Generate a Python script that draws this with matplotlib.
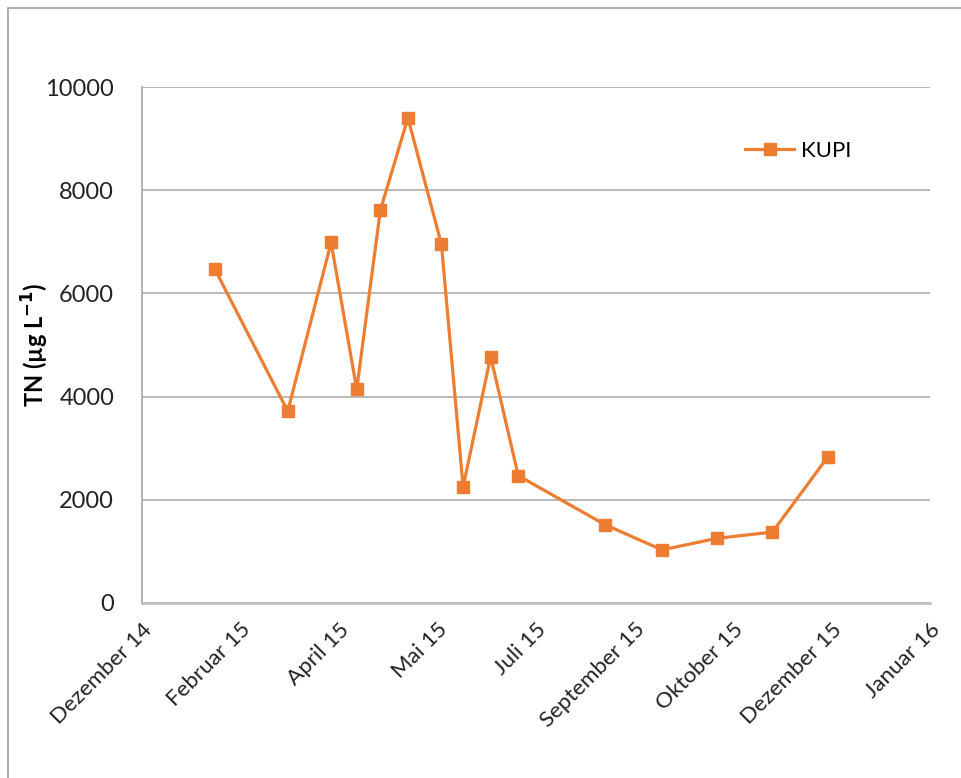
import datetime as dt
import matplotlib
matplotlib.use("Agg")
import matplotlib.pyplot as plt
from matplotlib.patches import Rectangle

# sampling dates and TN values (KUPI)
dates = ["2015-02-02", "2015-03-11", "2015-04-02", "2015-04-15", "2015-04-27",
         "2015-05-11", "2015-05-28", "2015-06-08", "2015-06-22", "2015-07-06",
         "2015-08-19", "2015-09-17", "2015-10-15", "2015-11-12", "2015-12-10"]
tn_values = [6470, 3715, 6990, 4140, 7615, 9405, 6955, 2245, 4775, 2465,
             1515, 1025, 1250, 1370, 2820]

month_names = ["Januar", "Februar", "März", "April", "Mai", "Juni", "Juli",
               "August", "September", "Oktober", "November", "Dezember"]

plt.rcParams['font.family'] = ['Lato', 'DejaVu Sans']

orange = "#ED7D31"
grid_col = "#A6A6A6"

fig = plt.figure(figsize=(9.62, 7.78), dpi=100)
ax = fig.add_axes([0.1476, 0.2253, 0.8191, 0.6625])

x = [dt.datetime.strptime(d, "%Y-%m-%d") for d in dates]
ax.plot(x, tn_values, color=orange, lw=2.3, marker="s", markersize=8,
        markeredgecolor=orange, label="KUPI")

# Excel style date axis: 50 day steps
x_start = dt.datetime(2014, 12, 27)
x_end = dt.datetime(2016, 1, 31)
ticks = [x_start + dt.timedelta(days=50 * i) for i in range(9)]
ax.set_xlim(x_start, x_end)
ax.set_xticks(ticks)
ax.set_xticklabels([f"{month_names[t.month - 1]} {t.year % 100}" for t in ticks],
                   rotation=45, ha="right", va="top", rotation_mode="anchor",
                   fontsize=16, color="#222222")

ax.set_ylim(0, 10000)
ax.set_yticks(range(0, 10001, 2000))
ax.tick_params(axis="y", labelsize=17, colors="#222222", length=0, pad=20)
ax.tick_params(axis="x", length=0, pad=12)
ax.set_ylabel(r"TN (µg L$^{\mathbf{-1}}$)", fontsize=17, fontweight="bold")
ax.yaxis.set_label_coords(-0.116, 0.5)

ax.grid(axis="y", color=grid_col, lw=1.1)
ax.set_axisbelow(True)
for s in ["top", "right"]:
    ax.spines[s].set_visible(False)
ax.spines["left"].set_color(grid_col)
ax.spines["left"].set_linewidth(1.2)
ax.spines["bottom"].set_color("#BFBFBF")
ax.spines["bottom"].set_linewidth(1.8)

leg = ax.legend(loc="center left", bbox_to_anchor=(0.74, 0.876), frameon=False,
                fontsize=16, handlelength=2.2, handletextpad=0.3)

# chart area border
fig.patches.append(Rectangle((8 / 962, -0.05), 1.1, 1 - 7.5 / 778 + 0.05,
                             transform=fig.transFigure, fill=False,
                             edgecolor="#A0A0A0", lw=1.2))

fig.savefig("out.png", dpi=100)
